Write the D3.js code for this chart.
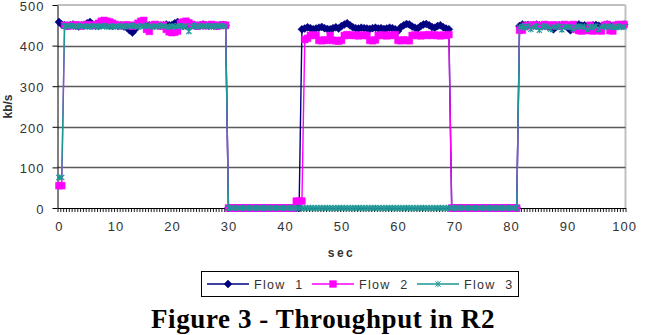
<!DOCTYPE html>
<html>
<head>
<meta charset="utf-8">
<script src="https://cdn.jsdelivr.net/npm/d3@7"></script>
<style>
  body { margin: 0; background: #fff; }
  text { font-family: "Liberation Sans", Arial, sans-serif; }
</style>
</head>
<body>
<svg id="chart" width="646" height="335"></svg>
<script>
// samples every 0.5 sec, 0 .. 100
const times = d3.range(0, 100.5, 0.5);

const flow1 = [
  458, 452, 450, 448, 450, 452, 449, 447, 450, 451, 455, 458, 452, 449, 448, 450, 452, 451, 449, 448,
  450, 448, 450, 447, 445, 438, 432, 440, 452, 456, 451, 449, 450, 448, 450, 451, 449, 450, 452, 450,
  451, 455, 458, 452, 448, 450, 449, 451, 450, 448, 450, 452, 450, 449, 451, 450, 448, 450, 451, 450,
  0, 0, 0, 0, 0, 0, 0, 0, 0, 0, 0, 0, 0, 0, 0, 0, 0, 0, 0, 0,
  0, 0, 0, 0, 0, 0, 440, 442, 445, 443, 440, 442, 444, 446, 443, 441, 440, 443, 445, 442,
  448, 452, 455, 450, 445, 443, 442, 444, 443, 442, 441, 443, 444, 442, 443, 441, 442, 444, 443, 440,
  436, 445, 450, 453, 452, 447, 444, 442, 448, 452, 453, 450, 446, 444, 448, 450, 445, 442, 440, 0,
  0, 0, 0, 0, 0, 0, 0, 0, 0, 0, 0, 0, 0, 0, 0, 0, 0, 0, 0, 0,
  0, 0, 0, 448, 452, 450, 451, 449, 450, 452, 450, 448, 450, 447, 445, 440, 446, 450, 451, 449,
  445, 438, 447, 450, 452, 449, 450, 448, 446, 450, 451, 449, 447, 450, 452, 450, 448, 450, 451, 450,
  452
];

const flow2 = [
  55, 55, 450, 448, 450, 449, 451, 450, 448, 450, 452, 450, 449, 451, 455, 460, 462, 460, 458, 455,
  452, 450, 449, 450, 451, 450, 448, 450, 455, 460, 462, 440, 435, 450, 452, 450, 448, 450, 440, 434,
  432, 433, 436, 455, 458, 460, 456, 452, 450, 448, 450, 451, 449, 450, 452, 450, 448, 450, 451, 450,
  0, 0, 0, 0, 0, 0, 0, 0, 0, 0, 0, 0, 0, 0, 0, 0, 0, 0, 0, 0,
  0, 0, 0, 0, 17, 17, 17, 415, 418, 425, 426, 425, 413, 412, 414, 413, 425, 413, 412, 411,
  413, 425, 427, 425, 426, 425, 424, 426, 425, 425, 413, 412, 414, 425, 426, 425, 424, 426, 425, 427,
  413, 412, 414, 413, 412, 425, 426, 425, 424, 426, 425, 427, 425, 426, 425, 424, 426, 425, 427, 0,
  0, 0, 0, 0, 0, 0, 0, 0, 0, 0, 0, 0, 0, 0, 0, 0, 0, 0, 0, 0,
  0, 0, 0, 438, 438, 448, 450, 449, 451, 450, 448, 450, 452, 450, 449, 451, 450, 448, 450, 452,
  450, 448, 452, 440, 437, 436, 438, 437, 450, 436, 437, 438, 436, 450, 452, 437, 436, 450, 452, 450,
  452
];

const flow3 = [
  75, 75, 448, 447, 449, 448, 446, 448, 449, 447, 448, 446, 448, 449, 447, 448, 449, 446, 448, 447,
  448, 447, 449, 446, 448, 447, 449, 448, 446, 448, 447, 449, 448, 446, 448, 447, 449, 448, 447, 446,
  448, 447, 449, 448, 446, 448, 435, 447, 449, 446, 448, 447, 449, 448, 446, 448, 447, 449, 448, 447,
  0, 0, 0, 0, 0, 0, 0, 0, 0, 0, 0, 0, 0, 0, 0, 0, 0, 0, 0, 0,
  0, 0, 0, 0, 0, 0, 0, 0, 0, 0, 0, 0, 0, 0, 0, 0, 0, 0, 0, 0,
  0, 0, 0, 0, 0, 0, 0, 0, 0, 0, 0, 0, 0, 0, 0, 0, 0, 0, 0, 0,
  0, 0, 0, 0, 0, 0, 0, 0, 0, 0, 0, 0, 0, 0, 0, 0, 0, 0, 0, 0,
  0, 0, 0, 0, 0, 0, 0, 0, 0, 0, 0, 0, 0, 0, 0, 0, 0, 0, 0, 0,
  0, 0, 0, 445, 447, 444, 448, 440, 446, 447, 438, 445, 448, 446, 440, 447, 445, 448, 439, 446,
  447, 445, 440, 446, 448, 445, 447, 439, 446, 445, 448, 440, 446, 447, 445, 448, 446, 444, 447, 445,
  446
];

const seriesNames = ["Flow  1", "Flow  2", "Flow  3"];
const seriesColors = ["#000080", "#ff00ff", "#1f9696"];
const xTickLabels = [0, 10, 20, 30, 40, 50, 60, 70, 80, 90, 100];
const yTicks = [0, 100, 200, 300, 400, 500];

const svg = d3.select("#chart");

const plotLeft = 57.5, plotRight = 625.5, plotTop = 5, plotBottom = 208;

const x = d3.scaleLinear().domain([-0.25, 100.25]).range([plotLeft, plotRight]);
const y = d3.scaleLinear().domain([0, 500]).range([plotBottom, plotTop]);

// plot border (light gray top & right)
svg.append("line")
    .attr("x1", plotLeft).attr("x2", plotRight).attr("y1", y(500)).attr("y2", y(500))
    .attr("stroke", "#c0c0c0").attr("stroke-width", 2);
svg.append("line")
    .attr("x1", plotRight).attr("x2", plotRight).attr("y1", plotTop).attr("y2", plotBottom)
    .attr("stroke", "#c0c0c0").attr("stroke-width", 2);

// gridlines
svg.append("g")
    .selectAll("line")
    .data(yTicks.filter(d => d > 0 && d < 500))
    .enter().append("line")
    .attr("x1", plotLeft).attr("x2", plotRight)
    .attr("y1", d => Math.round(y(d)) + 0.5).attr("y2", d => Math.round(y(d)) + 0.5)
    .attr("stroke", "#5a5a5a").attr("stroke-width", 1.3);

// y axis
const yAxis = svg.append("g")
    .attr("transform", `translate(${plotLeft},0)`)
    .call(d3.axisLeft(y).tickValues(yTicks).tickSize(5).tickPadding(8).tickSizeOuter(0));
yAxis.select(".domain").attr("stroke", "#000");
yAxis.selectAll("text")
    .attr("dy", "0.4em")
    .style("font-size", "13px").attr("fill", "#333").style("letter-spacing", "1px");

// x axis: a tick between every category
const boundaries = times.map(t => t - 0.25).concat([100.25]);
const xAxis = svg.append("g")
    .attr("transform", `translate(0,${plotBottom})`)
    .call(d3.axisBottom(x).tickValues(boundaries).tickSize(4).tickFormat("").tickSizeOuter(0));
xAxis.select(".domain").attr("stroke", "#000");
xAxis.selectAll(".tick line").attr("stroke", "#000").attr("stroke-width", 0.9);

svg.append("g")
    .attr("transform", `translate(0,${plotBottom})`)
    .call(d3.axisBottom(x).tickValues(xTickLabels).tickSize(0).tickPadding(14))
    .call(g => g.select(".domain").remove())
    .selectAll("text")
    .style("font-size", "13px").attr("fill", "#333").style("letter-spacing", "1px");

// axis titles
svg.append("text")
    .attr("x", (plotLeft + plotRight) / 2).attr("y", 257)
    .attr("text-anchor", "middle")
    .style("font-size", "12px").style("font-weight", "bold").style("letter-spacing", "2.5px")
    .attr("fill", "#333")
    .text("sec");

svg.append("text")
    .attr("transform", `translate(12,${(plotTop + plotBottom) / 2}) rotate(-90)`)
    .attr("text-anchor", "middle")
    .style("font-size", "12px").style("font-weight", "bold")
    .attr("fill", "#333")
    .text("kb/s");

// markers
const diamond = "M0,-4L4,0L0,4L-4,0Z";
const square = "M-3.4,-3.4H3.4V3.4H-3.4Z";
const asterisk = "M-2.6,-2.6L2.6,2.6M-2.6,2.6L2.6,-2.6M0,-3.2V3.2";
const markers = [diamond, square, asterisk];

const line = d3.line()
    .x((d, i) => x(times[i]))
    .y(d => y(d));

const allSeries = [flow1, flow2, flow3];

allSeries.forEach((vals, s) => {
    const g = svg.append("g");
    g.append("path")
        .attr("d", line(vals))
        .attr("fill", "none")
        .attr("stroke", seriesColors[s])
        .attr("stroke-width", 1.4);
    g.selectAll("path.mk")
        .data(vals)
        .enter().append("path")
        .attr("class", "mk")
        .attr("transform", (d, i) => `translate(${x(times[i])},${y(d)})`)
        .attr("d", markers[s])
        .attr("fill", s === 2 ? "none" : seriesColors[s])
        .attr("stroke", seriesColors[s])
        .attr("stroke-width", s === 2 ? 1.1 : 0.5);
});

// legend
const legend = svg.append("g");
legend.append("rect")
    .attr("x", 201.5).attr("y", 271.5).attr("width", 317).attr("height", 25)
    .attr("fill", "#fff").attr("stroke", "#000").attr("stroke-width", 1);

const itemX = [207, 312, 417];
seriesNames.forEach((name, s) => {
    const gx = itemX[s];
    legend.append("line")
        .attr("x1", gx).attr("x2", gx + 42).attr("y1", 284).attr("y2", 284)
        .attr("stroke", seriesColors[s]).attr("stroke-width", 1.3);
    legend.append("path")
        .attr("transform", `translate(${gx + 21},284)`)
        .attr("d", markers[s])
        .attr("fill", s === 2 ? "none" : seriesColors[s])
        .attr("stroke", seriesColors[s])
        .attr("stroke-width", s === 2 ? 1 : 0.5);
    legend.append("text")
        .attr("x", gx + 47).attr("y", 288.5)
        .style("font-size", "12.5px").style("letter-spacing", "1.3px")
        .style("white-space", "pre")
        .attr("fill", "#333")
        .text(name);
});

// caption
svg.append("text")
    .attr("x", 323).attr("y", 328)
    .attr("text-anchor", "middle")
    .style("font-family", "'Liberation Serif', 'Times New Roman', serif")
    .style("font-size", "27px").style("font-weight", "bold").style("letter-spacing", "0.6px")
    .attr("fill", "#000")
    .text("Figure 3 - Throughput in R2");
</script>
</body>
</html>
